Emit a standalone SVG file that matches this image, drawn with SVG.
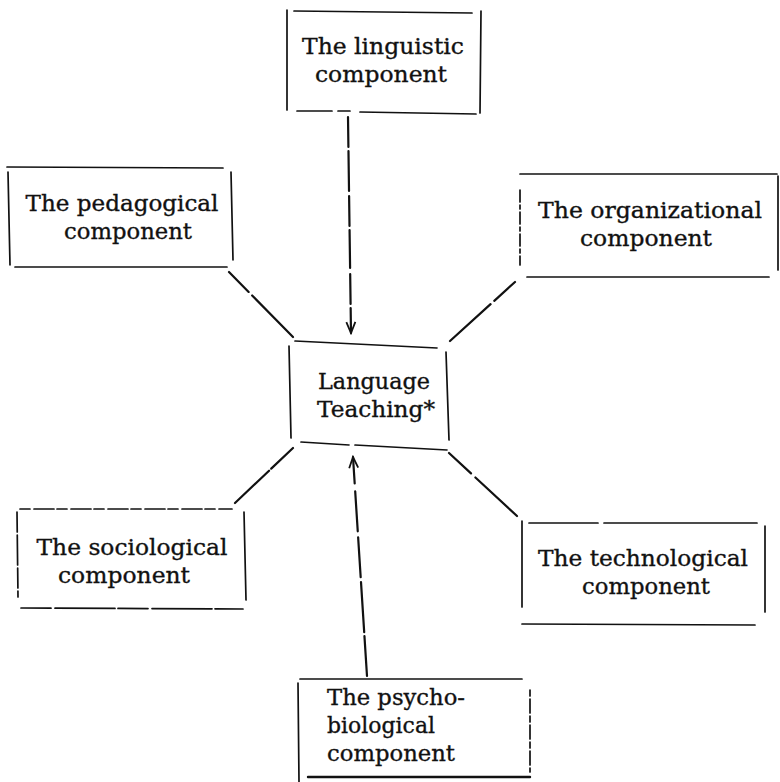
<svg xmlns="http://www.w3.org/2000/svg" width="780" height="782" viewBox="0 0 780 782">
<style>
.bx{stroke:#111;stroke-width:1.7;fill:none;stroke-linecap:round}
.thk{stroke-width:2.4}
.t{font-family:"DejaVu Serif","Liberation Serif",serif;font-size:23px;fill:#111;stroke:#111;stroke-width:0.35}
.m{text-anchor:middle}
.cn{stroke:#111;stroke-width:2.2;fill:none;stroke-linecap:round}
</style>
<defs>
<marker id="ah" markerUnits="userSpaceOnUse" markerWidth="14" markerHeight="14" refX="12" refY="6" orient="auto">
<path d="M1,1.5 L12,6 L1,10.5" fill="none" stroke="#111" stroke-width="1.8"/>
</marker>
</defs>
<rect width="780" height="782" fill="#fff"/>

<g id="linguistic">
<line class="bx" x1="287" y1="10" x2="287" y2="110"/>
<line class="bx" x1="294" y1="11" x2="472" y2="13"/>
<line class="bx" x1="481" y1="11" x2="480" y2="113"/>
<line class="bx" x1="297" y1="111" x2="332" y2="111"/>
<line class="bx" x1="338" y1="111" x2="350" y2="111"/>
<line class="bx" x1="360" y1="112" x2="476" y2="114"/>
<text class="t m" x="383" y="54" textLength="162" lengthAdjust="spacingAndGlyphs">The linguistic</text>
<text class="t m" x="381" y="82" textLength="132" lengthAdjust="spacingAndGlyphs">component</text>
</g>

<g id="pedagogical">
<line class="bx" x1="7" y1="167" x2="223" y2="168"/>
<line class="bx" x1="8" y1="172" x2="10" y2="265"/>
<line class="bx" x1="231" y1="172" x2="233" y2="260"/>
<line class="bx" x1="15" y1="267" x2="227" y2="267"/>
<text class="t m" x="122" y="211" textLength="193" lengthAdjust="spacingAndGlyphs">The pedagogical</text>
<text class="t m" x="128" y="239" textLength="128" lengthAdjust="spacingAndGlyphs">component</text>
</g>

<g id="organizational">
<line class="bx" x1="520" y1="174" x2="777" y2="174"/>
<line class="bx" x1="520" y1="190" x2="520" y2="265" stroke-dasharray="12 3 4 3"/>
<line class="bx" x1="778" y1="176" x2="778" y2="270"/>
<line class="bx" x1="527" y1="277" x2="769" y2="277"/>
<text class="t m" x="650" y="218" textLength="224" lengthAdjust="spacingAndGlyphs">The organizational</text>
<text class="t m" x="646" y="246" textLength="132" lengthAdjust="spacingAndGlyphs">component</text>
</g>

<g id="center">
<line class="bx" x1="295" y1="341" x2="437" y2="348"/>
<line class="bx" x1="289" y1="346" x2="291" y2="438"/>
<line class="bx" x1="446" y1="352" x2="449" y2="440"/>
<line class="bx" x1="301" y1="442" x2="349" y2="445"/>
<line class="bx" x1="355" y1="445" x2="447" y2="450"/>
<text class="t m" x="374" y="389" textLength="112" lengthAdjust="spacingAndGlyphs">Language</text>
<text class="t m" x="376" y="417" textLength="118" lengthAdjust="spacingAndGlyphs">Teaching*</text>
</g>

<g id="sociological">
<line class="bx" x1="20" y1="509" x2="232" y2="509" stroke-dasharray="10 4 20 3"/>
<line class="bx" x1="17" y1="512" x2="18" y2="597" stroke-dasharray="20 3 30 3"/>
<line class="bx" x1="244" y1="512" x2="246" y2="600"/>
<line class="bx" x1="21" y1="608" x2="243" y2="609" stroke-dasharray="30 4 60 3"/>
<text class="t m" x="132" y="555" textLength="191" lengthAdjust="spacingAndGlyphs">The sociological</text>
<text class="t m" x="124" y="583" textLength="132" lengthAdjust="spacingAndGlyphs">component</text>
</g>

<g id="technological">
<line class="bx" x1="529" y1="523" x2="598" y2="523"/>
<line class="bx" x1="604" y1="523" x2="757" y2="523"/>
<line class="bx" x1="522" y1="521" x2="522" y2="607"/>
<line class="bx" x1="765" y1="526" x2="765" y2="612"/>
<line class="bx" x1="522" y1="624" x2="755" y2="625"/>
<text class="t m" x="643" y="566" textLength="210" lengthAdjust="spacingAndGlyphs">The technological</text>
<text class="t m" x="646" y="594" textLength="128" lengthAdjust="spacingAndGlyphs">component</text>
</g>

<g id="psychobiological">
<line class="bx" x1="300" y1="679" x2="522" y2="679"/>
<line class="bx" x1="298" y1="683" x2="299" y2="782"/>
<line class="bx" x1="530" y1="690" x2="530" y2="772" stroke-dasharray="6 3 14 3"/>
<line class="bx thk" x1="308" y1="777" x2="530" y2="777"/>
<text class="t" x="327" y="705" textLength="138" lengthAdjust="spacingAndGlyphs">The psycho-</text>
<text class="t" x="327" y="733" textLength="108" lengthAdjust="spacingAndGlyphs">biological</text>
<text class="t" x="327" y="761" textLength="128" lengthAdjust="spacingAndGlyphs">component</text>
</g>

<g id="connectors">
<path class="cn" d="M348,117 L351,333" stroke-dasharray="30 4 40 5 30 4 38 6" marker-end="url(#ah)"/>
<path class="cn" d="M367,676 L353,457" stroke-dasharray="40 4 50 5 40 6 40 8" marker-end="url(#ah)"/>
<path class="cn" d="M229,272 L293,337" stroke-dasharray="28 5 60"/>
<path class="cn" d="M515,282 L450,341" stroke-dasharray="28 5 60"/>
<path class="cn" d="M449,453 L517,516" stroke-dasharray="30 6 60"/>
<path class="cn thk" d="M293,448 L235,503" stroke-width="3" stroke-dasharray="30 3 60"/>
</g>
</svg>
